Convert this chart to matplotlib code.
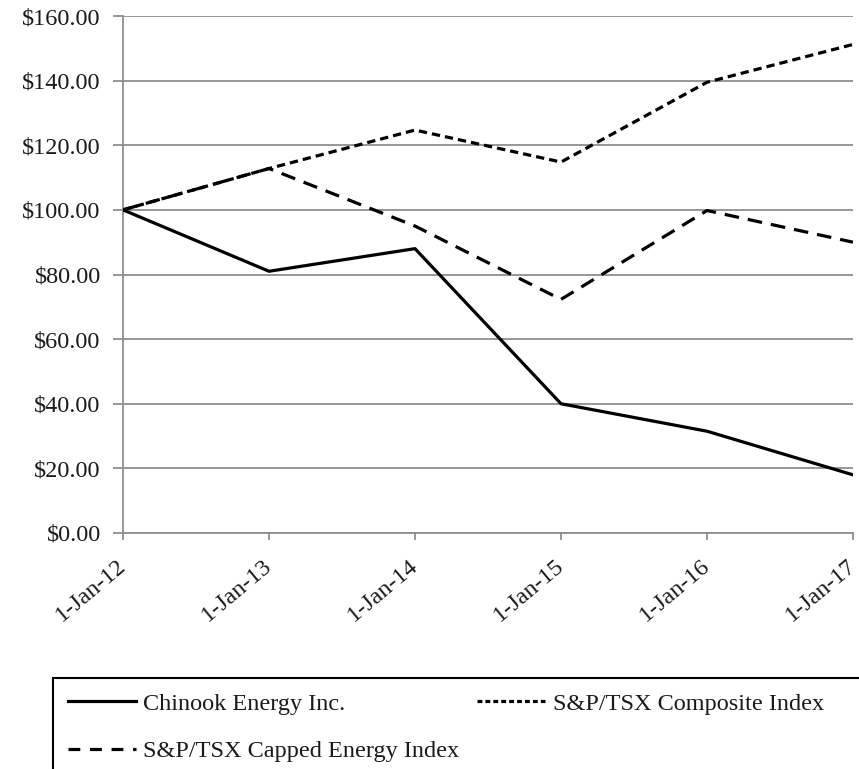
import matplotlib
matplotlib.use("Agg")
import matplotlib.pyplot as plt
from matplotlib.lines import Line2D
from matplotlib.patches import Rectangle

plt.rcParams['font.family'] = ['Liberation Serif', 'DejaVu Serif']
plt.rcParams['lines.scale_dashes'] = False

dates = ["1-Jan-12", "1-Jan-13", "1-Jan-14", "1-Jan-15", "1-Jan-16", "1-Jan-17"]
chinook = [100.0, 81.0, 88.0, 40.0, 31.5, 18.0]
composite = [100.0, 112.8, 124.7, 114.8, 139.5, 151.2]
energy = [100.0, 112.8, 95.0, 72.3, 99.8, 90.0]
series_names = ["Chinook Energy Inc.", "S&P/TSX Composite Index", "S&P/TSX Capped Energy Index"]
yticks = [0, 20, 40, 60, 80, 100, 120, 140, 160]

W, H = 859, 769
fig = plt.figure(figsize=(W / 100, H / 100), dpi=100)
ax = fig.add_axes([123 / W, 1 - 533 / H, 730 / W, 517 / H])

x = list(range(len(dates)))
grid_c = "#8f8f8f"
ax.plot(x, chinook, color="black", lw=2.3, zorder=3)
l2, = ax.plot(x, composite, color="black", lw=2.3, zorder=3)
l2.set_dashes((6.0, 3.6))
l3, = ax.plot(x, energy, color="black", lw=2.3, zorder=3)
l3.set_dashes((10.5, 6.5))

ax.set_xlim(0, len(dates) - 1)
ax.set_ylim(0, 160)
ax.set_yticks(yticks)
ax.set_yticklabels([f"${v:.2f}" for v in yticks], fontsize=17.5)
ax.set_xticks(x)
ax.set_xticklabels(dates, fontsize=17.5, rotation=40, ha="right", va="center", rotation_mode="anchor")
ax.grid(axis="y", color=grid_c, lw=1.3)
for s in ["top", "right"]:
    ax.spines[s].set_visible(False)
for s in ["left", "bottom"]:
    ax.spines[s].set_color(grid_c)
    ax.spines[s].set_linewidth(1.3)
ax.tick_params(axis="both", color=grid_c, width=1.3, colors="#1a1a1a")
ax.tick_params(axis="y", length=7, pad=9)
ax.tick_params(axis="x", length=5, pad=17)
ax.set_axisbelow(True)

# legend frame (extends beyond the figure edge like the reference)
fig.patches.append(Rectangle((53 / W, -0.05), 1.0, 1 - 678 / H + 0.05,
                             transform=fig.transFigure, fill=False,
                             edgecolor="black", lw=1.5, clip_on=False))

h1 = Line2D([], [], color="black", lw=2.3)
h2 = Line2D([], [], color="black", lw=2.3, dashes=(3.5, 2.2))
h3 = Line2D([], [], color="black", lw=2.3, dashes=(8.5, 7.0))
leg = fig.legend([h1, h3, h2], [series_names[0], series_names[2], series_names[1]],
                 ncol=2, loc="upper left",
                 bbox_to_anchor=(53 / W, 1 - 678 / H),
                 fontsize=17.5, frameon=False,
                 handlelength=2.8, handletextpad=0.3, labelspacing=1.05,
                 borderpad=0.6, borderaxespad=0.0, columnspacing=0.75)
for t in leg.get_texts():
    t.set_color("#1a1a1a")

fig.savefig("out.png", dpi=100)
